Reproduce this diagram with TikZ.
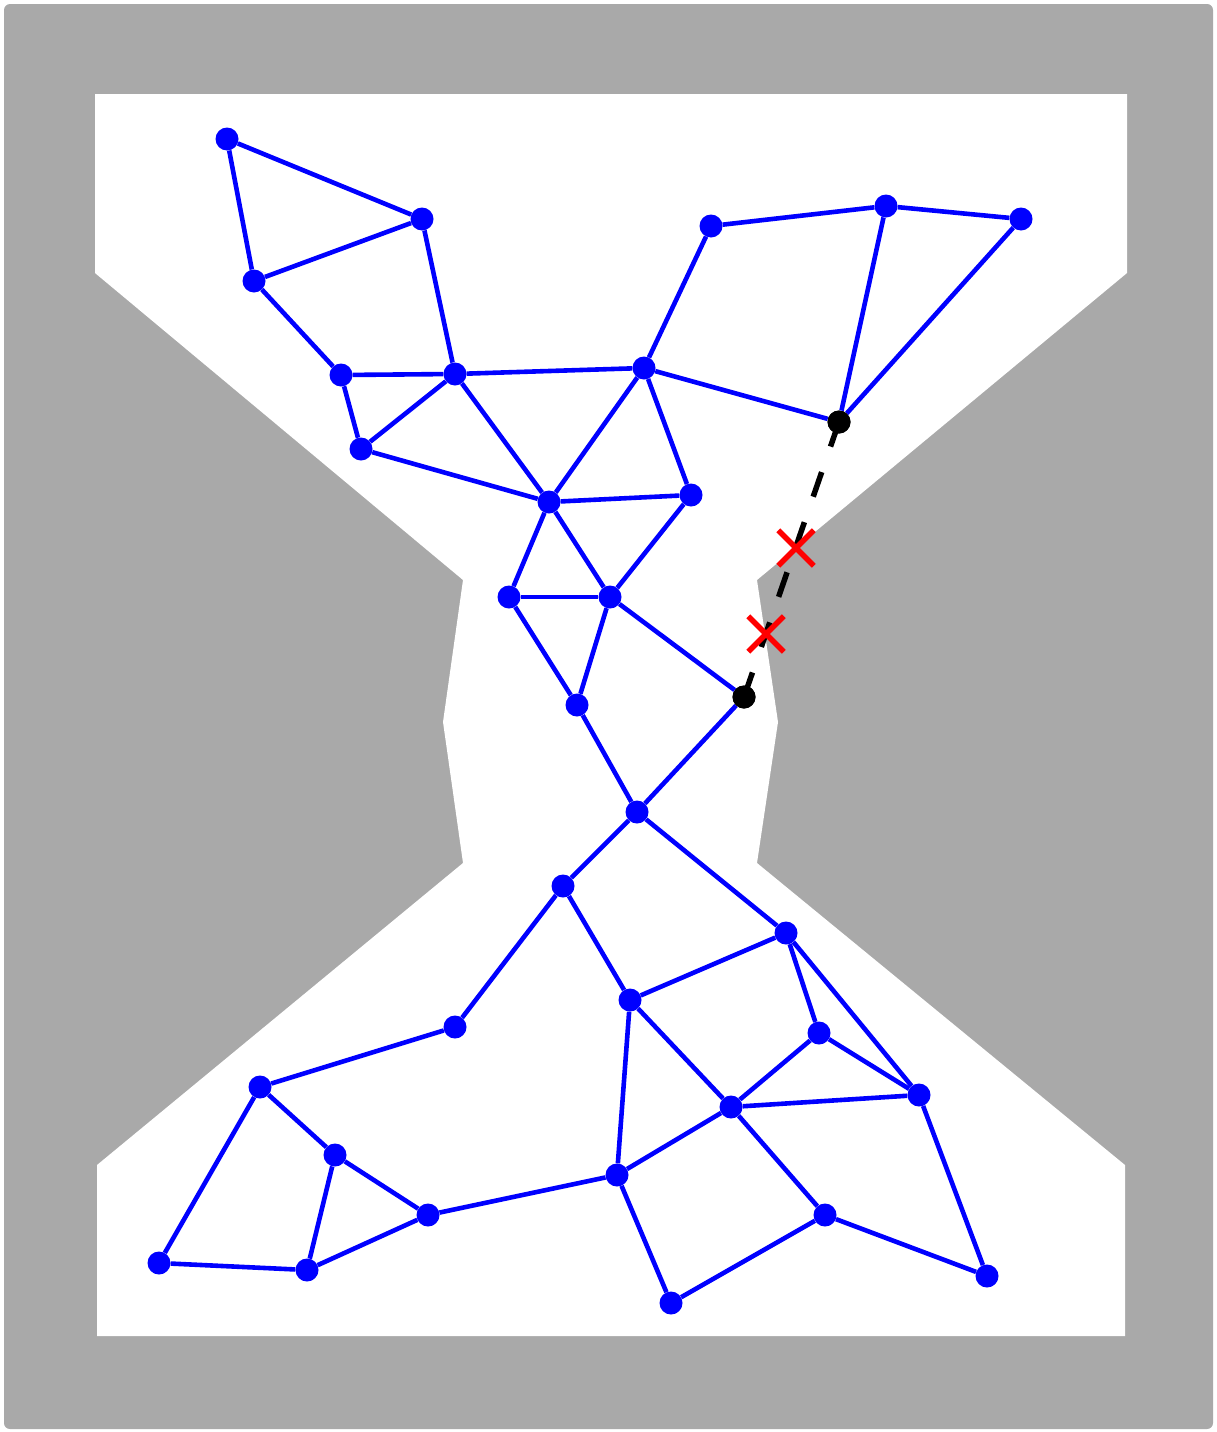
\documentclass[tikz,border=0pt]{standalone}
\usepackage{tikz}
\usetikzlibrary{shapes.misc}
\definecolor{wallgray}{HTML}{A9A9A9}
\definecolor{netblue}{HTML}{0000FF}
\definecolor{cutred}{HTML}{FF0000}

\begin{document}
\begin{tikzpicture}[
  x=1pt,y=-1pt,
  line cap=butt,line join=miter,
  vtx/.style={circle,fill=netblue,inner sep=0pt,minimum size=23pt},
  endvtx/.style={circle,fill=black,inner sep=0pt,minimum size=23pt},
  edge/.style={draw=netblue,line width=4.6pt},
  link/.style={draw=black,line width=5.5pt,dash pattern=on 26pt off 27pt},
  cut/.style={cross out,draw=cutred,line width=5.5pt,inner sep=0pt,minimum size=30pt}
]
\useasboundingbox (0,0) rectangle (1216,1432);

% Free space
\fill[wallgray,rounded corners=6pt] (4,4) rectangle (1213,1429);
\fill[white] (95,94) -- (95,273) -- (463,580) -- (443,722) -- (463,863)
  -- (97,1165) -- (97,1336) -- (1125,1336) -- (1125,1165) -- (757,863)
  -- (778,722) -- (757,580) -- (1127,273) -- (1127,94) -- cycle;

% Upper room
\node[vtx] (v1) at (227,139) {};
\node[vtx] (v2) at (422,219) {};
\node[vtx] (v3) at (254,281) {};
\node[vtx] (v4) at (341,375) {};
\node[vtx] (v5) at (455,374) {};
\node[vtx] (v6) at (361,449) {};
\node[vtx] (v7) at (644,368) {};
\node[vtx] (v8) at (711,226) {};
\node[vtx] (v9) at (886,206) {};
\node[vtx] (v10) at (1021,219) {};
\node[endvtx] (v11) at (839,422) {};
\node[vtx] (v12) at (549,502) {};
\node[vtx] (v13) at (691,495) {};

% Narrow passage
\node[vtx] (v14) at (509,597) {};
\node[vtx] (v15) at (610,597) {};
\node[vtx] (v16) at (577,705) {};
\node[endvtx] (v17) at (744,697) {};
\node[vtx] (v18) at (637,812) {};

% Lower room
\node[vtx] (v19) at (563,886) {};
\node[vtx] (v20) at (786,933) {};
\node[vtx] (v21) at (630,1000) {};
\node[vtx] (v22) at (455,1027) {};
\node[vtx] (v23) at (819,1033) {};
\node[vtx] (v24) at (919,1095) {};
\node[vtx] (v25) at (731,1107) {};
\node[vtx] (v26) at (260,1087) {};
\node[vtx] (v27) at (335,1155) {};
\node[vtx] (v28) at (428,1215) {};
\node[vtx] (v29) at (617,1175) {};
\node[vtx] (v30) at (825,1215) {};
\node[vtx] (v31) at (159,1263) {};
\node[vtx] (v32) at (307,1270) {};
\node[vtx] (v33) at (671,1303) {};
\node[vtx] (v34) at (987,1276) {};

\foreach \a/\b in {v1/v2,v1/v3,v3/v2,v2/v5,v3/v4,v4/v5,v4/v6,v6/v5,v5/v7,v5/v12,
  v6/v12,v7/v8,v8/v9,v9/v10,v9/v11,v10/v11,v7/v11,v7/v12,v7/v13,v12/v13,
  v12/v14,v12/v15,v13/v15,v14/v15,v14/v16,v15/v16,v15/v17,v16/v18,v17/v18,
  v18/v19,v18/v20,v19/v22,v19/v21,v21/v20,v20/v23,v20/v24,v23/v25,v23/v24,
  v21/v25,v21/v29,v25/v24,v25/v29,v25/v30,v24/v34,v30/v34,v29/v28,v29/v33,
  v33/v30,v22/v26,v26/v27,v26/v31,v27/v28,v27/v32,v31/v32,v32/v28}
  {\draw[edge] (\a)--(\b);}

% Blocked connection
\draw[link] (v11.center)--(v17.center);
\node[endvtx] at (v11) {};
\node[endvtx] at (v17) {};
\node[cut] (x1) at (796,548) {};
\node[cut] (x2) at (766,634) {};
\end{tikzpicture}
\end{document}
